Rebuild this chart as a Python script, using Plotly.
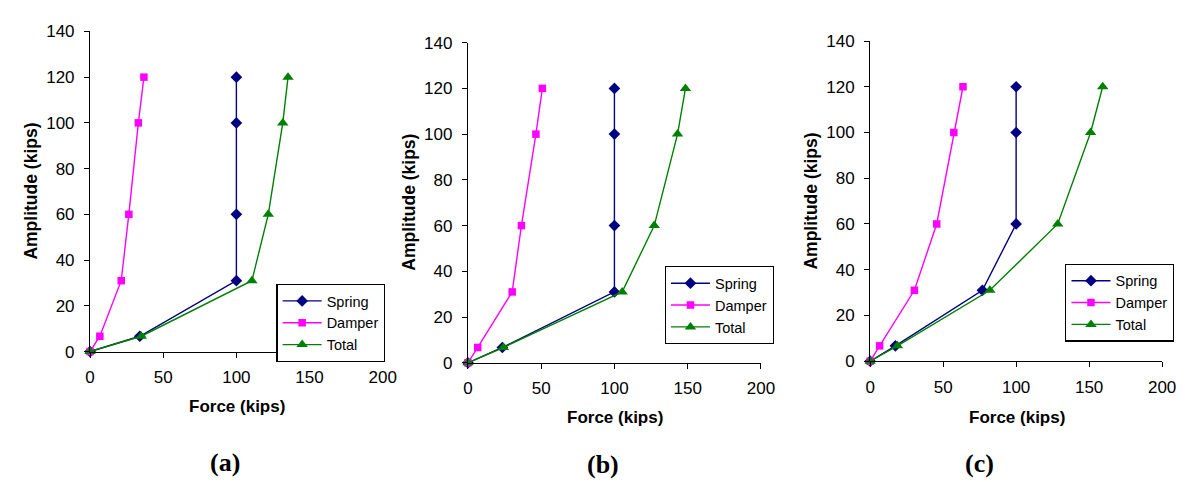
import plotly.graph_objects as go

W, H = 1194, 482

# ---------------- data ----------------
amplitude = [0, 6.7, 31, 60, 100, 120]

a_spring = [0, 34, 100, 100, 100, 100]
a_damper = [0, 6.7, 21.3, 26.5, 33, 36.8]
a_total = [0, 35, 110.6, 121.8, 131.7, 135.3]

b_spring = [0, 23.5, 100, 100, 100, 100]
b_damper = [0, 6.7, 30.2, 36.5, 46.4, 50.8]
b_total = [0, 24.2, 105.3, 127.2, 143.1, 148.5]

c_spring = [0, 17.3, 76.9, 100, 100, 100]
c_damper = [0, 6.5, 30.3, 45.6, 57.3, 63.6]
c_total = [0, 18.7, 82, 128.5, 151, 159.3]

series_names = ["Spring", "Damper", "Total"]
panel_labels = ["(a)", "(b)", "(c)"]
x_title = "Force (kips)"
y_title = "Amplitude (kips)"
x_ticks = [0, 50, 100, 150, 200]
y_ticks = [0, 20, 40, 60, 80, 100, 120, 140]

panels = [
    (a_spring, a_damper, a_total),
    (b_spring, b_damper, b_total),
    (c_spring, c_damper, c_total),
]

# ---------------- layout geometry (pixels) ----------------
# plot areas: (x0, x1, ytop, ybottom)
areas = [
    (78.3, 375.7, 15.0, 348.3),
    (462.3, 760.0, 26.7, 360.0),
    (871.0, 1167.7, 25.0, 358.3),
]
legend_pos = [(267.7, 277.7), (662.3, 259.3), (1069.3, 256.7)]
xtitle_pos = [(228, 405), (611.7, 417), (1020, 417)]
ytitle_pos = [(18, 181), (402.7, 193), (811, 192)]
plabel_pos = [(215, 464), (600, 466), (982, 465)]

styles = [
    dict(color="#000080", symbol="diamond", size=9),
    dict(color="#FF00FF", symbol="square", size=7.5),
    dict(color="#008000", symbol="triangle-up", size=10),
]

fig = go.Figure()
FONT = "Arial, Liberation Sans, sans-serif"

for i, (ser, area) in enumerate(zip(panels, areas)):
    sfx = "" if i == 0 else str(i + 1)
    leg = "legend" if i == 0 else f"legend{i + 1}"
    for name, vals, st in zip(series_names, ser, styles):
        fig.add_trace(go.Scatter(
            x=vals, y=amplitude, name=name, mode="lines+markers",
            line=dict(color=st["color"], width=1.4),
            marker=dict(color=st["color"], symbol=st["symbol"], size=st["size"],
                        line=dict(width=0)),
            xaxis="x" + sfx, yaxis="y" + sfx, legend=leg,
            cliponaxis=False, showlegend=True,
        ))
    x0, x1, yt, yb = area
    axcommon = dict(showgrid=False, zeroline=False, showline=True, linecolor="black",
                    linewidth=1.2, ticks="outside", ticklen=5, tickcolor="black",
                    tickwidth=1.2, tickfont=dict(family=FONT, size=17, color="black"))
    fig.update_layout(**{
        "xaxis" + sfx: dict(domain=[x0 / W, x1 / W], range=[0, 200], tickvals=x_ticks,
                            anchor="y" + sfx, ticklabelstandoff=5, **axcommon),
        "yaxis" + sfx: dict(domain=[1 - yb / H, 1 - yt / H], range=[0, 140], tickvals=y_ticks,
                            anchor="x" + sfx, ticklabelstandoff=6, **axcommon),
    })
    lx, ly = legend_pos[i]
    fig.update_layout(**{
        leg: dict(x=lx / W, y=1 - ly / H, xanchor="left", yanchor="top",
                  bgcolor="white", bordercolor="black", borderwidth=1.2,
                  font=dict(family=FONT, size=14.5, color="black"),
                  itemwidth=39, tracegroupgap=0)
    })
    tx, ty = xtitle_pos[i]
    fig.add_annotation(x=tx / W, y=1 - ty / H, xref="paper", yref="paper",
                       text="<b>" + x_title + "</b>", showarrow=False,
                       font=dict(family=FONT, size=17, color="black"),
                       xanchor="center", yanchor="middle")
    vx, vy = ytitle_pos[i]
    fig.add_annotation(x=vx / W, y=1 - vy / H, xref="paper", yref="paper",
                       text="<b>" + y_title + "</b>", showarrow=False, textangle=-90,
                       font=dict(family=FONT, size=17.5, color="black"),
                       xanchor="center", yanchor="middle")
    px, py = plabel_pos[i]
    fig.add_annotation(x=px / W, y=1 - py / H, xref="paper", yref="paper",
                       text="<b>" + panel_labels[i] + "</b>", showarrow=False,
                       font=dict(family="Times New Roman, Liberation Serif, serif",
                                 size=26, color="black"),
                       xanchor="center", yanchor="middle")

fig.update_layout(
    width=W, height=H, margin=dict(l=0, r=0, t=0, b=0),
    paper_bgcolor="white", plot_bgcolor="white",
)

fig.write_html("out.html")
